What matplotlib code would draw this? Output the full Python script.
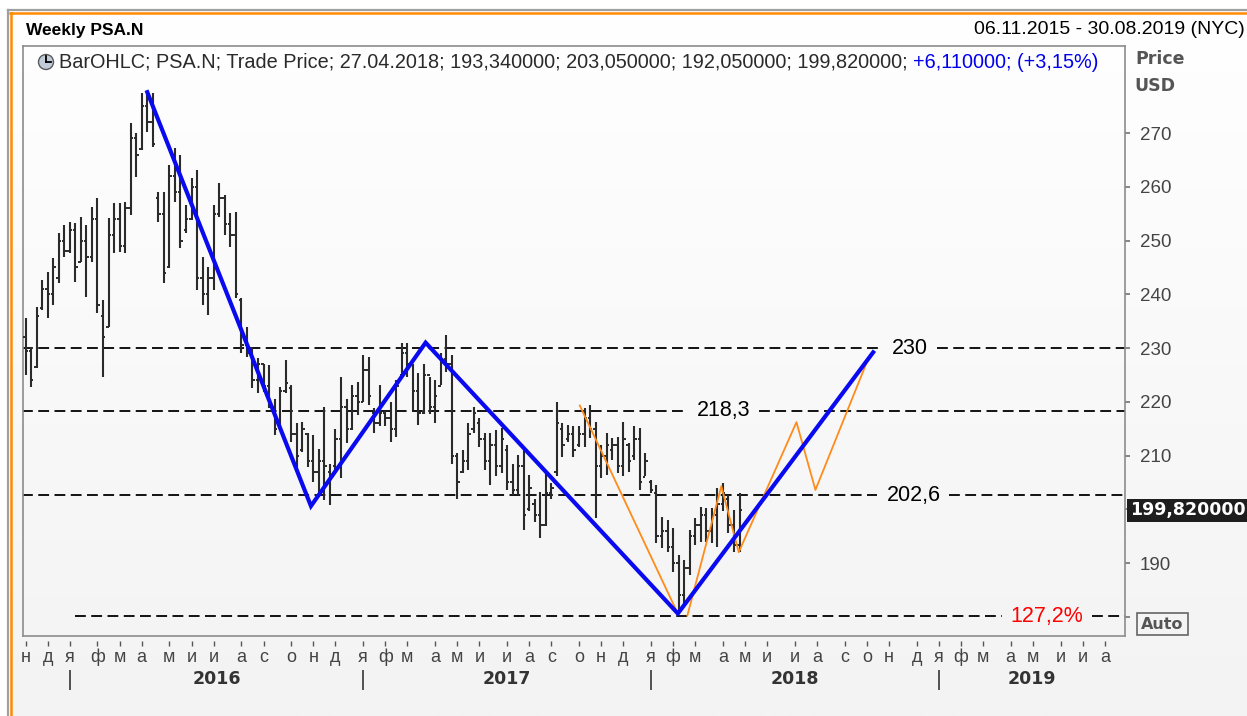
import matplotlib
matplotlib.use('Agg')
import numpy as np
import pandas as pd
import matplotlib.pyplot as plt
import matplotlib.dates as mdates
from matplotlib.lines import Line2D
from matplotlib.patches import Rectangle, Circle
from matplotlib.colors import LinearSegmentedColormap
from matplotlib.transforms import IdentityTransform

W, H = 1247, 716

# weekly OHLC bars, first bar on 06.11.2015
first_bar = '2015-11-06'
opens = [232, 229.5, 226.5, 237.5, 241, 240, 243, 250, 248, 252,
         246, 250, 247, 254, 236, 234, 251, 254, 249, 256,
         269, 267, 275, 272, 258, 255, 245, 262, 259, 252,
         254, 260, 243, 240, 243, 255, 258, 253, 251, 239,
         230.5, 229, 224, 227, 223, 219, 215.5, 222, 222.5, 214,
         211, 214, 209, 207, 209, 207, 208, 213, 219, 215,
         221, 220, 226, 218, 216, 218, 217, 215, 225, 229,
         227, 222, 218, 225, 219, 223, 228, 227, 210, 207,
         209, 215, 216, 213, 209, 212, 208, 211, 205, 203.5,
         208, 200, 201, 199, 197, 203, 207, 215, 213, 214,
         212, 214, 217, 215, 208, 210, 211, 212, 208, 212,
         210, 213, 206, 205, 203, 195, 196, 193, 190, 184,
         189, 195, 197, 199, 196, 199, 201, 202, 197, 193.34]
highs = [235.6, 230.2, 237.6, 242.7, 244.1, 246.7, 251.4, 252.9, 253.4, 253.3,
         254.4, 252.9, 256.2, 257.9, 238.9, 254.2, 257.0, 257.0, 257.2, 271.9,
         270.0, 277.4, 277.4, 277.4, 259.0, 259.0, 264.0, 267.2, 265.9, 256.6,
         261.6, 263.1, 246.9, 245.1, 256.6, 260.7, 258.5, 255.1, 255.3, 239.3,
         233.9, 230.2, 228.1, 227.1, 226.8, 220.6, 222.8, 227.8, 223.1, 216.0,
         216.3, 214.1, 213.8, 211.3, 219.1, 208.5, 215.0, 224.7, 220.6, 223.1,
         223.7, 228.7, 228.4, 218.8, 223.1, 218.2, 220.0, 224.0, 230.9, 230.9,
         227.1, 225.3, 227.1, 224.7, 224.0, 229.0, 232.4, 228.7, 210.4, 211.0,
         216.0, 219.1, 216.9, 214.1, 214.1, 214.8, 215.1, 212.0, 208.5, 210.1,
         211.3, 206.4, 202.0, 203.3, 206.7, 204.8, 220.0, 216.0, 215.7, 215.4,
         215.4, 218.8, 219.4, 216.3, 212.0, 214.1, 213.2, 213.5, 216.3, 212.3,
         215.4, 215.1, 210.4, 205.4, 204.5, 198.6, 198.0, 196.5, 191.5, 190.5,
         196.1, 198.3, 200.5, 200.2, 200.2, 203.9, 204.8, 202.7, 199.9, 203.05]
lows = [225.0, 222.7, 226.3, 237.1, 235.6, 238.0, 242.1, 246.9, 247.7, 242.3,
        246.0, 239.5, 246.0, 236.5, 224.6, 233.9, 247.7, 247.9, 247.7, 254.7,
        261.8, 266.8, 270.2, 267.4, 253.4, 242.1, 244.9, 257.2, 248.6, 251.4,
        253.8, 240.8, 238.0, 236.1, 240.8, 254.4, 251.0, 248.8, 239.3, 229.1,
        228.3, 222.5, 221.6, 221.9, 218.8, 213.8, 215.0, 221.6, 212.6, 207.3,
        210.7, 207.9, 205.1, 202.3, 201.7, 200.8, 207.3, 205.8, 212.3, 214.7,
        217.5, 220.0, 219.4, 214.1, 215.4, 215.4, 212.6, 213.5, 224.4, 224.7,
        218.5, 215.7, 217.8, 217.8, 216.0, 223.1, 225.6, 208.5, 202.0, 206.7,
        207.3, 214.1, 211.6, 207.3, 204.5, 206.1, 206.7, 203.6, 202.7, 202.7,
        196.1, 199.6, 197.7, 194.6, 196.8, 202.0, 206.1, 209.8, 212.6, 209.8,
        211.6, 211.6, 213.2, 198.3, 205.8, 206.4, 209.2, 206.7, 206.1, 207.0,
        209.2, 203.6, 206.1, 203.0, 193.7, 192.7, 192.1, 188.4, 181.0, 182.5,
        187.8, 193.4, 194.0, 194.0, 193.7, 193.0, 199.6, 195.5, 192.1, 192.05]
closes = [229.5, 224, 236, 241, 240, 245, 250, 248, 252, 245,
          250, 247, 254, 238, 232, 251, 254, 249, 256, 269,
          266, 275, 272, 268, 255, 244, 262, 259, 250, 254,
          260, 243, 240, 243, 255, 258, 253, 251, 240, 230.5,
          229, 224, 227, 223, 220, 215, 222, 223.5, 214, 210,
          215, 209, 207, 209, 208, 206, 213, 219, 215, 221,
          220, 226, 221, 216, 218, 217, 215, 223, 229, 227,
          222, 218, 225, 219, 221, 228, 227, 210, 205, 209,
          214, 218, 213, 209, 212, 208, 213, 205, 203.5, 208,
          199, 204, 199, 197, 203, 204, 216, 212, 214, 211,
          214, 217, 215, 208, 210, 212, 212, 208, 213, 209,
          213, 205, 209, 203.5, 195, 196, 193, 190, 184, 189,
          195, 197, 199, 196, 199, 201, 203, 197, 193.34, 199.82]

# drawn trend lines
blue_dates = ['2016-04-08', '2016-11-01', '2017-03-26', '2018-02-08', '2018-10-13']
blue_prices = [277.6, 200.6, 231.0, 180.6, 229.2]
orange1_dates = ['2017-10-07', '2018-02-06']
orange1_prices = [219.3, 181.2]
orange2_dates = ['2018-02-20', '2018-04-04', '2018-04-26', '2018-07-08', '2018-08-01', '2018-10-07']
orange2_prices = [180.2, 204.3, 192.0, 216.2, 203.6, 228.1]

# horizontal levels
levels = [230.0, 218.3, 202.6, 180.1]
level_starts = ['2015-11-02', '2015-11-02', '2015-11-02', '2016-01-08']
level_labels = ['230', '218,3', '202,6', '127,2%']
level_label_dates = ['2018-11-29', '2018-04-07', '2018-12-03', '2019-05-21']
level_label_colors = ['black', 'black', 'black', '#ff0000']

month_letters = ['я', 'ф', 'м', 'а', 'м', 'и', 'и', 'а', 'с', 'о', 'н', 'д']
years = ['2016', '2017', '2018', '2019']
y_ticks = [180, 190, 200, 210, 220, 230, 240, 250, 260, 270]
y_tick_labels = ['', '190', '', '210', '220', '230', '240', '250', '260', '270']
last_price = '199,820000'

REG = 'Liberation Sans'
BOLD = 'DejaVu Sans'


def fx(x):
    return x / W


def fy(y):
    return 1 - y / H


fig = plt.figure(figsize=(W / 100, H / 100), dpi=100, facecolor='white')

# panel background: light vertical gradient
bg = fig.add_axes([fx(10), 0, 1 - fx(10), fy(13)], zorder=-5)
cmap = LinearSegmentedColormap.from_list('panel', ['#ffffff', '#f3f3f3'])
bg.imshow(np.linspace(0, 1, 256).reshape(-1, 1), aspect='auto', cmap=cmap,
          extent=[0, 1, 0, 1])
bg.axis('off')

# outer frame lines (gray and orange)
fig.add_artist(Line2D([fx(8), 1], [fy(10), fy(10)], color='#a0a0a0', lw=1.6))
fig.add_artist(Line2D([fx(8), fx(8)], [0, fy(10)], color='#a0a0a0', lw=1.6))
fig.add_artist(Line2D([fx(10), 1], [fy(13), fy(13)], color='#ff8c00', lw=1.8))
fig.add_artist(Line2D([fx(10.5), fx(10.5)], [0, fy(13)], color='#ff8c00', lw=1.8))

ax = fig.add_axes([fx(22.5), fy(636), fx(1125) - fx(22.5), fy(46) - fy(636)])
ax.set_facecolor('none')

dates = pd.date_range(first_bar, periods=len(closes), freq='7D')
xd = mdates.date2num(dates)
half = 3.0
bar_col = '#2a2a2a'
ax.vlines(xd, lows, highs, color=bar_col, lw=1.5, zorder=3)
ax.hlines(opens, xd - half, xd, color=bar_col, lw=1.4, zorder=3)
ax.hlines(closes, xd, xd + half, color=bar_col, lw=1.4, zorder=3)

x0 = mdates.date2num(pd.Timestamp(first_bar))
right_edge = x0 + 1390.5
ax.set_xlim(x0 - 3.8, right_edge)
ax.set_ylim(176.42, 286.19)

# level labels first, then dashed lines broken around them
level_texts = []
for lvl, lab, ld, col in zip(levels, level_labels, level_label_dates, level_label_colors):
    level_texts.append(ax.text(mdates.date2num(pd.Timestamp(ld)), lvl, lab, color=col,
                               fontsize=15.5, family=REG, ha='center', va='center',
                               zorder=4))
fig.canvas.draw()
inv = ax.transData.inverted()
for lvl, start, t in zip(levels, level_starts, level_texts):
    ext = t.get_window_extent()
    gl = inv.transform((ext.x0 - 9, 0))[0]
    gr = inv.transform((ext.x1 + 9, 0))[0]
    for a, b in [(mdates.date2num(pd.Timestamp(start)), gl), (gr, right_edge)]:
        ax.plot([a, b], [lvl, lvl], color='black', lw=1.3, ls=(0, (6, 3)), zorder=2)

ax.plot(pd.to_datetime(orange1_dates), orange1_prices, color='#ff8c1a', lw=1.3, zorder=5)
ax.plot(pd.to_datetime(orange2_dates), orange2_prices, color='#ff8c1a', lw=1.3, zorder=5)
ax.plot(pd.to_datetime(blue_dates), blue_prices, color='#0a0af0', lw=3.0, zorder=6,
        solid_joinstyle='miter')

# right price axis
ax.yaxis.tick_right()
ax.set_yticks(y_ticks)
ax.set_yticklabels(y_tick_labels, fontsize=13.5, family=REG, color='#444444')
ax.tick_params(axis='y', direction='out', length=3.6, width=1.1, color='#666666', pad=7)
ax.set_xticks([])
for sp in ax.spines.values():
    sp.set_color('#8c8c8c')
    sp.set_linewidth(1.2)

# month ticks and letters on first Friday of each month
months = pd.date_range('2015-11-01', '2019-08-31', freq='WOM-1FRI')
xt = ax.get_xaxis_transform()
ax.vlines(mdates.date2num(months), -5 / 590, -10 / 590, transform=xt,
          color='#555555', lw=1.0, clip_on=False)
for m in months:
    ax.text(mdates.date2num(m), -21 / 590, month_letters[m.month - 1], transform=xt,
            ha='center', va='center', fontsize=13, family=REG, color='#444444',
            clip_on=False)

# year separators and labels
jans = [m for m in months if m.month == 1]
for i, (j, yr) in enumerate(zip(jans, years)):
    jx = mdates.date2num(j)
    ax.vlines(jx, -34 / 590, -54 / 590, transform=xt, color='#444444', lw=1.3,
              clip_on=False)
    nx = mdates.date2num(jans[i + 1]) if i + 1 < len(jans) else right_edge
    ax.text((jx + nx) / 2, -43 / 590, yr, transform=xt, ha='center', va='center',
            fontsize=12.5, family=BOLD, fontweight='bold', color='#333333', clip_on=False)

# header texts
fig.text(fx(26), fy(30), 'Weekly PSA.N', fontsize=12.5, family=REG, fontweight='bold',
         color='black', va='center', ha='left')
fig.text(fx(1245), fy(30), '06.11.2015 - 30.08.2019 (NYC)', fontsize=14, family=REG,
         color='black', va='center', ha='right')
fig.text(fx(1135), fy(59), 'Price', fontsize=12.5, family=BOLD, fontweight='bold',
         color='#555555', va='center', ha='left')
fig.text(fx(1134), fy(86), 'USD', fontsize=12.5, family=BOLD, fontweight='bold',
         color='#555555', va='center', ha='left')

# legend line with clock icon (pixel coordinates)
pix = IdentityTransform()
fig.add_artist(Circle((46, H - 62), 7.5, transform=pix, facecolor='#c2ccd8',
                      edgecolor='#5a5a5a', lw=1.0))
fig.add_artist(Line2D([46, 46], [H - 62, H - 56], transform=pix, color='black', lw=1.3))
fig.add_artist(Line2D([46, 51], [H - 62, H - 62], transform=pix, color='black', lw=1.3))
t1 = fig.text(fx(59), fy(62), 'BarOHLC; PSA.N; Trade Price; 27.04.2018; 193,340000; '
              '203,050000; 192,050000; 199,820000; ', fontsize=14.3, family=REG,
              color='#2a2a2a', va='center', ha='left')
fig.canvas.draw()
bb = t1.get_window_extent()
fig.text(bb.x1 / W, fy(62), '+6,110000; (+3,15%)', fontsize=14.3, family=REG,
         color='#0000ee', va='center', ha='left')

# last price box
fig.add_artist(Rectangle((fx(1127), fy(522)), fx(1247) - fx(1127), fy(499) - fy(522),
                         transform=fig.transFigure, facecolor='#1e1e1e', edgecolor='none'))
fig.text(fx(1130), fy(510.5), last_price, fontsize=12.5, family=BOLD, fontweight='bold',
         color='white', va='center', ha='left')

# "Auto" button
fig.add_artist(Rectangle((fx(1137), fy(635)), fx(1188) - fx(1137), fy(613) - fy(635),
                         transform=fig.transFigure, facecolor='none', edgecolor='#666666',
                         lw=1.2))
fig.text(fx(1162.5), fy(624.5), 'Auto', fontsize=11.5, family=BOLD, fontweight='bold',
         color='#555555', va='center', ha='center')

fig.savefig('out.png', dpi=100)
